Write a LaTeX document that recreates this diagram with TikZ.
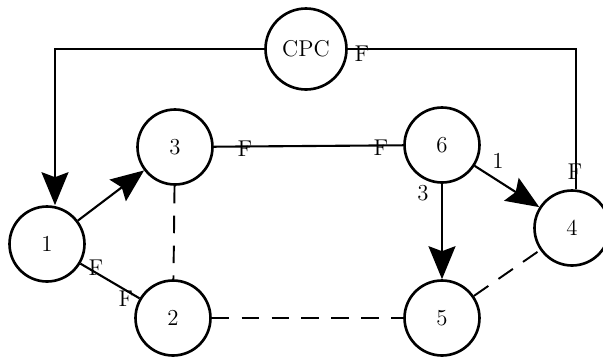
\documentclass[tikz,border=0pt]{standalone}
\usetikzlibrary{arrows.meta}

\begin{document}
\begin{tikzpicture}[x=0.02cm, y=-0.02cm, font=\fontsize{13}{15}\selectfont,
  stage/.style={draw, circle, line width=1.5pt, minimum size=1.5cm, inner sep=0pt},
  flow/.style={line width=1.2pt},
  big/.style={-{Stealth[length=0.66cm, width=0.54cm, inset=0.1cm]}, line width=1.2pt},
  link/.style={line width=1.1pt, dash pattern=on 10pt off 7pt}]
  \useasboundingbox (0,0) rectangle (603,356);

  % Nodes
  \node[stage, minimum size=1.62cm] (cpc) at (306,49) {CPC};
  \node[stage] (n3) at (175,147) {3};
  \node[stage] (n6) at (442,145) {6};
  \node[stage] (n1) at (47,244) {1};
  \node[stage] (n4) at (572,228) {4};
  \node[stage] (n2) at (173,318) {2};
  \node[stage] (n5) at (442,318) {5};

  % Feedback loop from CPC
  \draw[big] (cpc) -| ([xshift=0.16cm]n1.north);
  \draw[flow] (cpc) -| ([xshift=0.08cm]n4.north);
  \node (fcpc) at (362,54) {F};
  \node (fn4) at (575,172) {F};

  % Solid links
  \draw[big] (n1) -- (n3);
  \draw[flow] (n1) -- (n2);
  \node (fn1) at (96,268) {F};
  \node (fn2) at (126,299) {F};
  \draw[flow] (n3) -- (n6);
  \node (fn3) at (245,149) {F};
  \node (fn6) at (381,148) {F};

  \draw[big] (n6) -- (n5);
  \node (w65) at (423,193) {3};
  \draw[big] (n6) -- (n4);
  \node (w64) at (498,161) {1};

  % Dashed links
  \draw[link] (n3) -- (n2);
  \draw[link] (n2) -- (n5);
  \draw[link] (n5) -- (n4);
\end{tikzpicture}
\end{document}
